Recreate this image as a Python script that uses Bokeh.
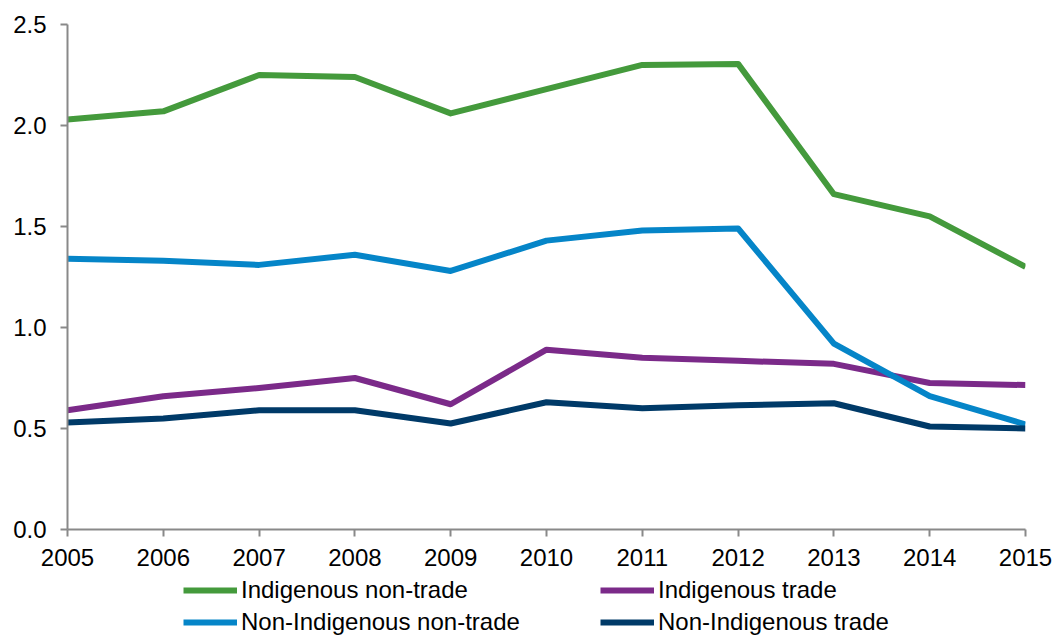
from bokeh.plotting import figure
from bokeh.layouts import column
from bokeh.models import Range1d, Legend, LegendItem, FixedTicker, NumeralTickFormatter
from bokeh.embed import file_html
from bokeh.resources import INLINE

years = [2005, 2006, 2007, 2008, 2009, 2010, 2011, 2012, 2013, 2014, 2015]
indigenous_non_trade = [2.03, 2.07, 2.25, 2.24, 2.06, 2.18, 2.30, 2.305, 1.66, 1.55, 1.30]
indigenous_trade = [0.59, 0.66, 0.70, 0.75, 0.62, 0.89, 0.85, 0.835, 0.82, 0.725, 0.715]
non_indigenous_non_trade = [1.34, 1.33, 1.31, 1.36, 1.28, 1.43, 1.48, 1.49, 0.92, 0.66, 0.52]
non_indigenous_trade = [0.53, 0.55, 0.59, 0.59, 0.525, 0.63, 0.60, 0.615, 0.625, 0.51, 0.50]
y_ticks = [0.0, 0.5, 1.0, 1.5, 2.0, 2.5]

FONT = "Liberation Sans"
FS = "24px"
AXIS_COLOR = "#898989"

p = figure(width=1054, height=575, output_backend="svg", toolbar_location=None,
           x_range=Range1d(2005, 2015), y_range=Range1d(0, 2.5),
           min_border_left=67, min_border_right=29, min_border_top=24, min_border_bottom=46)
p.outline_line_color = None
p.xgrid.visible = False
p.ygrid.visible = False

for ax in (p.xaxis[0], p.yaxis[0]):
    ax.axis_line_color = AXIS_COLOR
    ax.axis_line_width = 2
    ax.major_tick_line_color = AXIS_COLOR
    ax.major_tick_line_width = 2
    ax.major_tick_in = 0
    ax.major_tick_out = 7
    ax.minor_tick_line_color = None
    ax.major_label_text_font = FONT
    ax.major_label_text_font_size = FS
    ax.major_label_text_color = "black"

p.xaxis.ticker = FixedTicker(ticks=years)
p.xaxis.major_label_standoff = 12
p.yaxis.ticker = FixedTicker(ticks=y_ticks)
p.yaxis.formatter = NumeralTickFormatter(format="0.0")
p.yaxis.major_label_standoff = 14

series = [
    ("Indigenous non-trade", indigenous_non_trade, "#449a3c"),
    ("Indigenous trade", indigenous_trade, "#7b2a89"),
    ("Non-Indigenous non-trade", non_indigenous_non_trade, "#0585c8"),
    ("Non-Indigenous trade", non_indigenous_trade, "#003a68"),
]
for name, vals, col in series:
    p.line(years, vals, line_color=col, line_width=6, line_join="round")

# legend strip below the chart (its lines lie outside its visible range)
lf = figure(width=1054, height=61, output_backend="svg", toolbar_location=None,
            x_range=Range1d(0, 1), y_range=Range1d(0, 1),
            x_axis_location=None, y_axis_location=None,
            min_border_left=0, min_border_right=0, min_border_top=0, min_border_bottom=0)
lf.outline_line_color = None
lf.xgrid.visible = False
lf.ygrid.visible = False
swatch = {}
for name, vals, col in series:
    swatch[name] = lf.line(years, vals, line_color=col, line_width=6)


def make_legend(names, loc):
    lg = Legend(items=[LegendItem(label=n, renderers=[swatch[n]]) for n in names],
                location=loc, orientation="vertical")
    lg.label_text_font = FONT
    lg.label_text_font_size = FS
    lg.label_text_color = "black"
    lg.glyph_width = 54
    lg.glyph_height = 20
    lg.label_standoff = 4
    lg.spacing = 4
    lg.padding = 0
    lg.margin = 0
    lg.border_line_color = None
    lg.background_fill_alpha = 0
    return lg

lf.add_layout(make_legend(["Indigenous non-trade", "Non-Indigenous non-trade"], (116, 0)), "center")
lf.add_layout(make_legend(["Indigenous trade", "Non-Indigenous trade"], (533, 0)), "center")

layout = column(p, lf, spacing=0)
open("out.html", "w").write(file_html(layout, INLINE))
